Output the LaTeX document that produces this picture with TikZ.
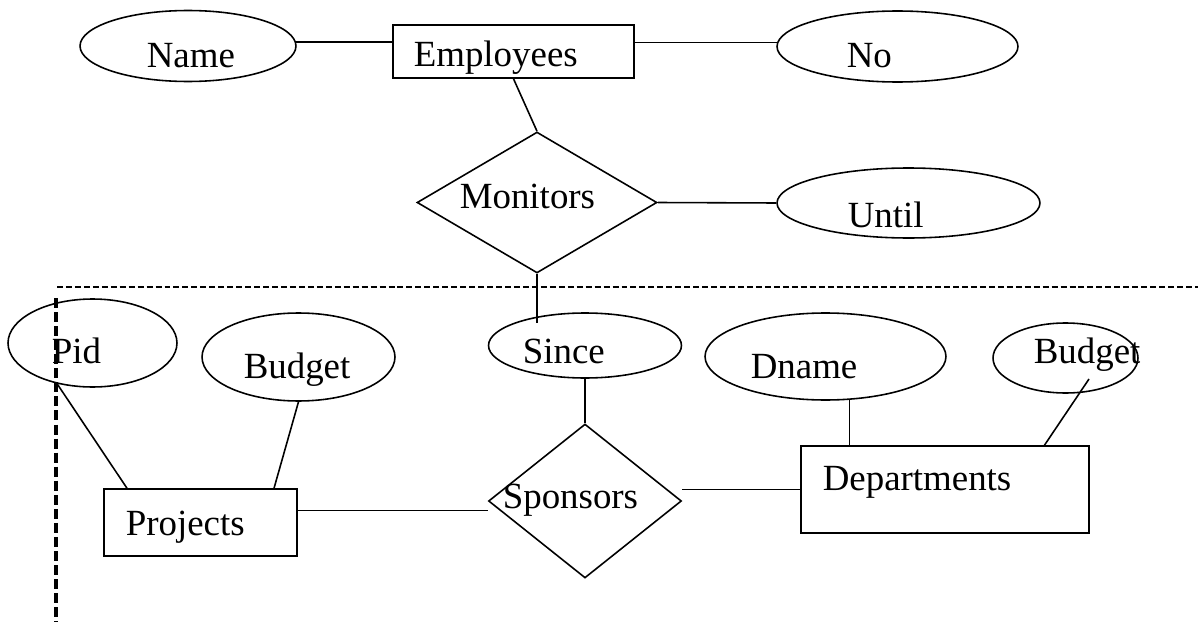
\documentclass[tikz,border=0pt]{standalone}
\usepackage{fontspec}
\setmainfont{Liberation Serif}
\usetikzlibrary{shapes.geometric}

\tikzset{
  entity/.style={draw, rectangle, inner sep=0pt, line width=0.9pt},
  attr/.style={draw, ellipse, inner sep=0pt, line width=0.9pt},
  rel/.style={draw, diamond, inner sep=0pt, line width=0.9pt},
  lbl/.style={anchor=base west, inner sep=0pt, font=\fontsize{21}{25}\selectfont},
}

\begin{document}
\begin{tikzpicture}[x=0.02cm, y=-0.02cm, line width=0.9pt]
  \useasboundingbox (0,0) rectangle (1198,622);

  % shapes
  \node[attr, minimum width=4.32cm, minimum height=1.42cm] (name) at (188,46) {};
  \node[entity, minimum width=4.82cm, minimum height=1.06cm] (emp) at (513.5,51.5) {};
  \node[attr, minimum width=4.82cm, minimum height=1.42cm] (no) at (897.5,46.5) {};
  \node[rel, minimum width=4.8cm, minimum height=2.82cm] (mon) at (537,202.5) {};
  \node[attr, minimum width=5.26cm, minimum height=1.4cm] (until) at (908.5,203) {};
  \node[attr, minimum width=3.38cm, minimum height=1.76cm] (pid) at (92.5,343) {};
  \node[attr, minimum width=3.86cm, minimum height=1.76cm] (pbudget) at (298.5,357) {};
  \node[attr, minimum width=3.86cm, minimum height=1.3cm] (since) at (585,345.5) {};
  \node[attr, minimum width=4.82cm, minimum height=1.74cm] (dname) at (825.5,356.5) {};
  \node[attr, minimum width=2.9cm, minimum height=1.4cm] (dbudget) at (1065.5,358) {};
  \node[entity, minimum width=3.86cm, minimum height=1.34cm] (proj) at (200.5,522.5) {};
  \node[rel, minimum width=3.86cm, minimum height=3.08cm] (spon) at (585,501) {};
  \node[entity, minimum width=5.76cm, minimum height=1.74cm] (dept) at (945,489.5) {};

  % texts
  \node[lbl] (nametxt) at (146,68) {Name};
  \node[lbl] (emptxt) at (413,67) {Employees};
  \node[lbl] (notxt) at (846,68) {No};
  \node[lbl] (montxt) at (459,208) {Monitors};
  \node[lbl] (untiltxt) at (847,227) {Until};
  \node[lbl] (pidtxt) at (51,363) {Pid};
  \node[lbl] (pbudgettxt) at (243,378) {Budget};
  \node[lbl] (sincetxt) at (522,363) {Since};
  \node[lbl] (dnametxt) at (750,378) {Dname};
  \node[lbl] (dbudgettxt) at (1033,363) {Budget};
  \node[lbl] (projtxt) at (125,535) {Projects};
  \node[lbl] (spontxt) at (502,508) {Sponsors};
  \node[lbl] (depttxt) at (822,490) {Departments};

  % connectors
  \coordinate (sincein) at (537,323);
  \coordinate (dbudgetin) at (1089,379);
  \draw (name.2) -- (name.2 -| emp.west);
  \draw (no.178) -- (no.178 -| emp.east);
  \draw (emp.south) -- (mon.north);
  \draw (mon.east) -- (until.west);
  \draw (mon.south) -- (sincein);
  \draw (since.south) -- (spon.north);
  \draw (proj.7) -- (proj.7 -| spon.west);
  \draw (dept.west) -- (dept.west -| spon.east);
  \draw (pid.229) -- (proj.155);
  \draw (pbudget.south) -- (proj.25);
  \draw (dname.-61) -- (dname.-61 |- dept.north);
  \draw (dbudgetin) -- (dept.24);

  % dashed borders
  \draw[line width=0.9pt, dash pattern=on 3.4pt off 1.7pt] (57,287) -- (1198,287);
  \draw[line width=2.2pt, dash pattern=on 5.7pt off 2.3pt] (56,298) -- (56,622);
\end{tikzpicture}
\end{document}
